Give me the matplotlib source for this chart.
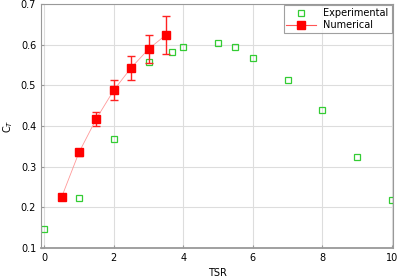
import matplotlib
matplotlib.use("Agg")
import matplotlib.pyplot as plt
from matplotlib.lines import Line2D

# experimental data
exp_tsr = [0, 1, 2, 3, 3.67, 4, 5, 5.5, 6, 7, 8, 9, 10]
exp_ct = [0.147, 0.223, 0.368, 0.557, 0.583, 0.595, 0.605, 0.593, 0.566, 0.514, 0.439, 0.324, 0.219]

# numerical data
num_tsr = [0.5, 1.0, 1.5, 2.0, 2.5, 3.0, 3.5]
num_ct = [0.225, 0.335, 0.418, 0.488, 0.543, 0.589, 0.624]
num_err = [0.004, 0.008, 0.017, 0.025, 0.029, 0.034, 0.046]

fig = plt.figure(figsize=(3.99, 2.79), dpi=100)
ax = fig.add_axes([0.103, 0.111, 0.882, 0.875])

ax.grid(True, color='#dddddd', linewidth=0.8)
ax.set_axisbelow(True)

ax.plot(exp_tsr, exp_ct, 's', mfc='none', mec='#33cc33', ms=5, mew=0.9,
        linestyle='none')
data_line, caps, bars = ax.errorbar(num_tsr, num_ct, yerr=num_err, fmt='-s',
                                    ms=5.5, lw=0.6, elinewidth=1.0, capsize=3,
                                    ecolor='#ff2222', mfc='red', mec='red')
data_line.set_color('#ff9999')

ax.set_xlim(-0.09, 10.03)
ax.set_ylim(0.1, 0.7)
ax.set_xticks([0, 2, 4, 6, 8, 10])
ax.set_yticks([0.1, 0.2, 0.3, 0.4, 0.5, 0.6, 0.7])
ax.tick_params(direction='in', labelsize=7, length=2, color='#999999')
for s in ax.spines.values():
    s.set_color('#999999')
ax.spines['bottom'].set_linewidth(1.3)

ax.set_xlabel('TSR', fontsize=7, labelpad=4)
ax.set_ylabel('C$_T$', fontsize=7)

handles = [
    Line2D([], [], marker='s', ls='none', mfc='none', mec='#33cc33', ms=5, mew=0.9),
    Line2D([], [], marker='s', color='#ff5555', lw=0.8, mfc='red', mec='red', ms=5.5),
]
leg = ax.legend(handles, ['Experimental', 'Numerical'], loc='upper right',
                fontsize=7, frameon=True, fancybox=False, edgecolor='#888888',
                borderaxespad=0.15, handlelength=3.0, labelspacing=0.2,
                borderpad=0.3, handletextpad=0.8)
leg.get_frame().set_linewidth(0.8)

fig.savefig('out.png', dpi=100)
